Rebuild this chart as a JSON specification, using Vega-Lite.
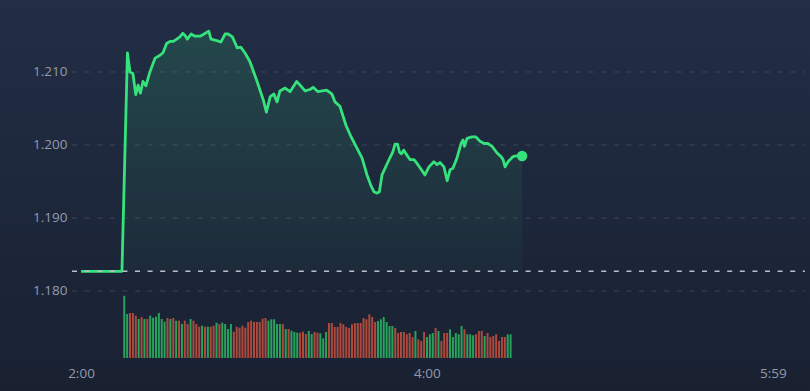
{
  "$schema": "https://vega.github.io/schema/vega-lite/v6.json",
  "width": 810,
  "height": 391,
  "autosize": {"type": "none"},
  "padding": 0,
  "background": "#1d2639",
  "config": {
    "view": {
      "stroke": null,
      "fill": {"gradient": "linear", "x1": 0, "y1": 0, "x2": 0, "y2": 1, "stops": [{"offset": 0, "color": "#222e46"}, {"offset": 1, "color": "#192131"}]}
    },
    "axis": {"labelFont": "Open Sans", "labelFontSize": 13.5, "labelColor": "#939bab", "domain": false, "ticks": false, "tickSize": 0, "grid": false, "title": null, "labelBound": false}
  },
  "datasets": {
    "grid": [{"g": 1.18}, {"g": 1.19}, {"g": 1.2}, {"g": 1.21}],
    "price": [
      {"m": 0, "p": 1.1827}, {"m": 14.2, "p": 1.1827}, {"m": 16.1, "p": 1.2126}, {"m": 17.0, "p": 1.2100}, {"m": 18.0, "p": 1.2098},
      {"m": 19.0, "p": 1.2069}, {"m": 19.8, "p": 1.2082}, {"m": 20.6, "p": 1.2071}, {"m": 21.5, "p": 1.2087}, {"m": 22.5, "p": 1.2081},
      {"m": 23.9, "p": 1.2100}, {"m": 25.7, "p": 1.2119}, {"m": 27.4, "p": 1.2123}, {"m": 28.4, "p": 1.2126}, {"m": 29.7, "p": 1.2139},
      {"m": 30.9, "p": 1.2142}, {"m": 32.0, "p": 1.2142}, {"m": 33.2, "p": 1.2145}, {"m": 34.3, "p": 1.2148}, {"m": 35.3, "p": 1.2153},
      {"m": 36.1, "p": 1.2150}, {"m": 36.9, "p": 1.2145}, {"m": 38.2, "p": 1.2152}, {"m": 39.5, "p": 1.2149}, {"m": 41.3, "p": 1.2149},
      {"m": 42.7, "p": 1.2152}, {"m": 44.3, "p": 1.2156}, {"m": 45.1, "p": 1.2145}, {"m": 47.1, "p": 1.2143}, {"m": 48.5, "p": 1.2141},
      {"m": 50.0, "p": 1.2152}, {"m": 51.1, "p": 1.2152}, {"m": 52.5, "p": 1.2148}, {"m": 54.2, "p": 1.2133}, {"m": 55.4, "p": 1.2134},
      {"m": 56.9, "p": 1.2126}, {"m": 58.6, "p": 1.2114}, {"m": 60.9, "p": 1.2089}, {"m": 63.2, "p": 1.2062}, {"m": 64.3, "p": 1.2045},
      {"m": 65.6, "p": 1.2066}, {"m": 66.9, "p": 1.2070}, {"m": 68.0, "p": 1.2059}, {"m": 69.0, "p": 1.2074}, {"m": 70.8, "p": 1.2078},
      {"m": 72.5, "p": 1.2073}, {"m": 74.8, "p": 1.2087}, {"m": 76.0, "p": 1.2082}, {"m": 77.7, "p": 1.2074}, {"m": 79.4, "p": 1.2076},
      {"m": 80.5, "p": 1.2079}, {"m": 82.2, "p": 1.2073}, {"m": 85.2, "p": 1.2075}, {"m": 87.0, "p": 1.2070}, {"m": 88.1, "p": 1.2059},
      {"m": 89.8, "p": 1.2053}, {"m": 91.9, "p": 1.2027}, {"m": 93.7, "p": 1.2011}, {"m": 95.4, "p": 1.1998}, {"m": 97.5, "p": 1.1982},
      {"m": 99.2, "p": 1.1959}, {"m": 100.6, "p": 1.1944}, {"m": 101.6, "p": 1.1936}, {"m": 102.7, "p": 1.1934}, {"m": 103.5, "p": 1.1936},
      {"m": 104.4, "p": 1.1959}, {"m": 106.5, "p": 1.1977}, {"m": 108.2, "p": 1.1991}, {"m": 108.9, "p": 1.2001}, {"m": 109.8, "p": 1.2001},
      {"m": 110.5, "p": 1.1990}, {"m": 111.2, "p": 1.1988}, {"m": 111.9, "p": 1.1993}, {"m": 112.9, "p": 1.1987}, {"m": 114.1, "p": 1.1980},
      {"m": 115.5, "p": 1.1980}, {"m": 116.5, "p": 1.1975}, {"m": 117.9, "p": 1.1967}, {"m": 119.3, "p": 1.1959}, {"m": 120.7, "p": 1.1970},
      {"m": 122.4, "p": 1.1977}, {"m": 123.5, "p": 1.1973}, {"m": 124.5, "p": 1.1976}, {"m": 125.9, "p": 1.1970}, {"m": 127.0, "p": 1.1951},
      {"m": 128.0, "p": 1.1966}, {"m": 129.0, "p": 1.1968}, {"m": 130.4, "p": 1.1982}, {"m": 131.8, "p": 1.2002}, {"m": 132.5, "p": 1.2007},
      {"m": 133.0, "p": 1.1998}, {"m": 133.9, "p": 1.2009}, {"m": 135.6, "p": 1.2011}, {"m": 137.0, "p": 1.2011}, {"m": 138.4, "p": 1.2005},
      {"m": 139.8, "p": 1.2002}, {"m": 141.2, "p": 1.2002}, {"m": 142.6, "p": 1.1998}, {"m": 144.3, "p": 1.1989}, {"m": 145.7, "p": 1.1984},
      {"m": 146.4, "p": 1.1980}, {"m": 147.1, "p": 1.1970}, {"m": 148.1, "p": 1.1977}, {"m": 149.8, "p": 1.1984}, {"m": 150.9, "p": 1.1985},
      {"m": 151.9, "p": 1.1985}, {"m": 153.0, "p": 1.1985}
    ],
    "last": [{"m": 153.0, "p": 1.1985}],
    "ref": [{"m0": -3.12, "m1": 251.1, "p": 1.1827}],
    "vol": [
      {"m": 15, "v": 62.3, "d": "up"}, {"m": 16, "v": 44, "d": "up"}, {"m": 17, "v": 45, "d": "down"}, {"m": 18, "v": 45, "d": "down"},
      {"m": 19, "v": 42.3, "d": "down"}, {"m": 20, "v": 39, "d": "up"}, {"m": 21, "v": 41, "d": "down"}, {"m": 22, "v": 39, "d": "up"},
      {"m": 23, "v": 39, "d": "down"}, {"m": 24, "v": 42.3, "d": "up"}, {"m": 25, "v": 40.3, "d": "up"}, {"m": 26, "v": 41.3, "d": "up"},
      {"m": 27, "v": 45, "d": "up"}, {"m": 28, "v": 39, "d": "up"}, {"m": 29, "v": 36.3, "d": "up"}, {"m": 30, "v": 40, "d": "down"},
      {"m": 31, "v": 39, "d": "up"}, {"m": 32, "v": 40, "d": "down"}, {"m": 33, "v": 37.3, "d": "up"}, {"m": 34, "v": 37.3, "d": "down"},
      {"m": 35, "v": 34, "d": "up"}, {"m": 36, "v": 37.3, "d": "down"}, {"m": 37, "v": 34, "d": "down"}, {"m": 38, "v": 39, "d": "up"},
      {"m": 39, "v": 37.3, "d": "down"}, {"m": 40, "v": 34, "d": "down"}, {"m": 41, "v": 31.3, "d": "down"}, {"m": 42, "v": 32.3, "d": "up"},
      {"m": 43, "v": 31.3, "d": "down"}, {"m": 44, "v": 31.3, "d": "up"}, {"m": 45, "v": 31.3, "d": "down"}, {"m": 46, "v": 32.3, "d": "down"},
      {"m": 47, "v": 35.3, "d": "up"}, {"m": 48, "v": 34, "d": "down"}, {"m": 49, "v": 35.3, "d": "up"}, {"m": 50, "v": 34, "d": "up"},
      {"m": 51, "v": 29, "d": "up"}, {"m": 52, "v": 34, "d": "up"}, {"m": 53, "v": 26.3, "d": "down"}, {"m": 54, "v": 31.3, "d": "down"},
      {"m": 55, "v": 30.3, "d": "down"}, {"m": 56, "v": 32.3, "d": "down"}, {"m": 57, "v": 30.3, "d": "down"}, {"m": 58, "v": 36, "d": "down"},
      {"m": 59, "v": 37.3, "d": "down"}, {"m": 60, "v": 36, "d": "down"}, {"m": 61, "v": 36, "d": "down"}, {"m": 62, "v": 36, "d": "down"},
      {"m": 63, "v": 39.3, "d": "down"}, {"m": 64, "v": 40, "d": "down"}, {"m": 65, "v": 37.3, "d": "up"}, {"m": 66, "v": 38.7, "d": "up"},
      {"m": 67, "v": 38.7, "d": "up"}, {"m": 68, "v": 34, "d": "up"}, {"m": 69, "v": 34, "d": "up"}, {"m": 70, "v": 34, "d": "down"},
      {"m": 71, "v": 29, "d": "up"}, {"m": 72, "v": 29, "d": "down"}, {"m": 73, "v": 27.3, "d": "up"}, {"m": 74, "v": 26, "d": "up"},
      {"m": 75, "v": 25.3, "d": "up"}, {"m": 76, "v": 25.3, "d": "down"}, {"m": 77, "v": 26.3, "d": "down"}, {"m": 78, "v": 24, "d": "down"},
      {"m": 79, "v": 27, "d": "up"}, {"m": 80, "v": 24, "d": "up"}, {"m": 81, "v": 26, "d": "down"}, {"m": 82, "v": 25.3, "d": "down"},
      {"m": 83, "v": 24.7, "d": "up"}, {"m": 84, "v": 19.7, "d": "up"}, {"m": 85, "v": 26, "d": "up"}, {"m": 86, "v": 35, "d": "down"},
      {"m": 87, "v": 35, "d": "down"}, {"m": 88, "v": 31, "d": "down"}, {"m": 89, "v": 31, "d": "down"}, {"m": 90, "v": 35, "d": "down"},
      {"m": 91, "v": 33.7, "d": "down"}, {"m": 92, "v": 31, "d": "down"}, {"m": 93, "v": 30, "d": "down"}, {"m": 94, "v": 33.7, "d": "down"},
      {"m": 95, "v": 35, "d": "down"}, {"m": 96, "v": 35, "d": "down"}, {"m": 97, "v": 35, "d": "down"}, {"m": 98, "v": 40, "d": "down"},
      {"m": 99, "v": 38.7, "d": "down"}, {"m": 100, "v": 43.7, "d": "down"}, {"m": 101, "v": 41, "d": "down"}, {"m": 102, "v": 36, "d": "down"},
      {"m": 103, "v": 37, "d": "up"}, {"m": 104, "v": 38.7, "d": "up"}, {"m": 105, "v": 41, "d": "up"}, {"m": 106, "v": 36, "d": "up"},
      {"m": 107, "v": 32, "d": "up"}, {"m": 108, "v": 32, "d": "up"}, {"m": 109, "v": 30, "d": "down"}, {"m": 110, "v": 25, "d": "down"},
      {"m": 111, "v": 26, "d": "down"}, {"m": 112, "v": 26, "d": "down"}, {"m": 113, "v": 23.7, "d": "down"}, {"m": 114, "v": 25, "d": "down"},
      {"m": 115, "v": 21, "d": "down"}, {"m": 116, "v": 27, "d": "up"}, {"m": 117, "v": 18.7, "d": "down"}, {"m": 118, "v": 17, "d": "down"},
      {"m": 119, "v": 26, "d": "down"}, {"m": 120, "v": 21, "d": "up"}, {"m": 121, "v": 23.7, "d": "up"}, {"m": 122, "v": 25, "d": "up"},
      {"m": 123, "v": 30, "d": "down"}, {"m": 124, "v": 27, "d": "up"}, {"m": 125, "v": 17, "d": "down"}, {"m": 126, "v": 25, "d": "down"},
      {"m": 127, "v": 25, "d": "down"}, {"m": 128, "v": 28.7, "d": "up"}, {"m": 129, "v": 21, "d": "up"}, {"m": 130, "v": 25, "d": "up"},
      {"m": 131, "v": 23.7, "d": "up"}, {"m": 132, "v": 32, "d": "up"}, {"m": 133, "v": 28.7, "d": "down"}, {"m": 134, "v": 23.7, "d": "up"},
      {"m": 135, "v": 23.7, "d": "up"}, {"m": 136, "v": 22.7, "d": "up"}, {"m": 137, "v": 23.7, "d": "down"}, {"m": 138, "v": 27, "d": "down"},
      {"m": 139, "v": 27, "d": "down"}, {"m": 140, "v": 22, "d": "up"}, {"m": 141, "v": 25, "d": "down"}, {"m": 142, "v": 21, "d": "down"},
      {"m": 143, "v": 22, "d": "down"}, {"m": 144, "v": 23.7, "d": "down"}, {"m": 145, "v": 17, "d": "down"}, {"m": 146, "v": 21, "d": "down"},
      {"m": 147, "v": 21, "d": "down"}, {"m": 148, "v": 23.7, "d": "up"}, {"m": 149, "v": 23.7, "d": "up"}
    ]
  },
  "layer": [
    {
      "data": {"name": "grid"},
      "mark": {"type": "rule", "stroke": "#3d4759", "strokeWidth": 1, "strokeDash": [5, 7.6]},
      "encoding": {
        "x": {"datum": -3.12, "type": "quantitative", "scale": {"domain": [-28.1, 252.86], "nice": false, "zero": false, "padding": 0},
          "axis": {"title": null, "values": [0, 120, 240], "labelExpr": "datum.value < 60 ? '2:00' : (datum.value < 200 ? '4:00' : '5:59')", "offset": -18, "labelPadding": 0, "labelBaseline": "middle", "labelFlush": false, "labelAlign": "center", "orient": "bottom"}},
        "x2": {"datum": 251.1},
        "y": {"field": "g", "type": "quantitative", "scale": {"domain": [1.1663, 1.21986], "nice": false, "zero": false},
          "axis": {"values": [1.18, 1.19, 1.2, 1.21], "format": ".3f", "offset": -67, "labelPadding": 0, "labelAlign": "right", "labelBaseline": "middle", "labelFlush": false, "orient": "left"}}
      }
    },
    {
      "data": {"name": "price"},
      "mark": {"type": "area", "interpolate": "linear",
        "fill": {"gradient": "linear", "x1": 0, "y1": 0, "x2": 0, "y2": 1, "stops": [{"offset": 0, "color": "rgba(46,204,113,0.17)"}, {"offset": 1, "color": "rgba(46,204,113,0.03)"}]}},
      "encoding": {
        "x": {"field": "m", "type": "quantitative",
          "axis": {"title": null, "values": [0, 120, 240], "labelExpr": "datum.value < 60 ? '2:00' : (datum.value < 200 ? '4:00' : '5:59')", "offset": -18, "labelPadding": 0, "labelBaseline": "middle", "labelFlush": false, "labelAlign": "center", "orient": "bottom"}},
        "y": {"field": "p", "type": "quantitative", "scale": {"domain": [1.1663, 1.21986], "nice": false, "zero": false}, "axis": null},
        "y2": {"datum": 1.1827}
      }
    },
    {
      "data": {"name": "vol"},
      "mark": {"type": "bar", "width": 2},
      "encoding": {
        "x": {"field": "m", "type": "quantitative",
          "axis": {"title": null, "values": [0, 120, 240], "labelExpr": "datum.value < 60 ? '2:00' : (datum.value < 200 ? '4:00' : '5:59')", "offset": -18, "labelPadding": 0, "labelBaseline": "middle", "labelFlush": false, "labelAlign": "center", "orient": "bottom"}},
        "y": {"field": "v", "type": "quantitative", "scale": {"domain": [-33, 358], "nice": false, "zero": false}, "axis": null},
        "y2": {"datum": 0},
        "color": {"field": "d", "type": "nominal", "scale": {"domain": ["up", "down"], "range": ["#28a25c", "#ad4a3c"]}, "legend": null}
      }
    },
    {
      "data": {"name": "price"},
      "mark": {"type": "line", "stroke": "#36e27b", "strokeWidth": 2.8, "strokeJoin": "round", "interpolate": "linear"},
      "encoding": {
        "x": {"field": "m", "type": "quantitative",
          "axis": {"title": null, "values": [0, 120, 240], "labelExpr": "datum.value < 60 ? '2:00' : (datum.value < 200 ? '4:00' : '5:59')", "offset": -18, "labelPadding": 0, "labelBaseline": "middle", "labelFlush": false, "labelAlign": "center", "orient": "bottom"}},
        "y": {"field": "p", "type": "quantitative", "scale": {"domain": [1.1663, 1.21986], "nice": false, "zero": false}, "axis": null}
      }
    },
    {
      "data": {"name": "ref"},
      "mark": {"type": "rule", "stroke": "#b9bfca", "strokeWidth": 1.5, "strokeDash": [5, 7.6]},
      "encoding": {
        "x": {"field": "m0", "type": "quantitative",
          "axis": {"title": null, "values": [0, 120, 240], "labelExpr": "datum.value < 60 ? '2:00' : (datum.value < 200 ? '4:00' : '5:59')", "offset": -18, "labelPadding": 0, "labelBaseline": "middle", "labelFlush": false, "labelAlign": "center", "orient": "bottom"}},
        "x2": {"field": "m1"},
        "y": {"field": "p", "type": "quantitative", "scale": {"domain": [1.1663, 1.21986], "nice": false, "zero": false}, "axis": null}
      }
    },
    {
      "data": {"name": "last"},
      "mark": {"type": "point", "filled": true, "size": 110, "color": "#36e27b", "opacity": 1},
      "encoding": {
        "x": {"field": "m", "type": "quantitative",
          "axis": {"title": null, "values": [0, 120, 240], "labelExpr": "datum.value < 60 ? '2:00' : (datum.value < 200 ? '4:00' : '5:59')", "offset": -18, "labelPadding": 0, "labelBaseline": "middle", "labelFlush": false, "labelAlign": "center", "orient": "bottom"}},
        "y": {"field": "p", "type": "quantitative", "scale": {"domain": [1.1663, 1.21986], "nice": false, "zero": false}, "axis": null}
      }
    }
  ],
  "resolve": {"scale": {"y": "independent"}}
}
